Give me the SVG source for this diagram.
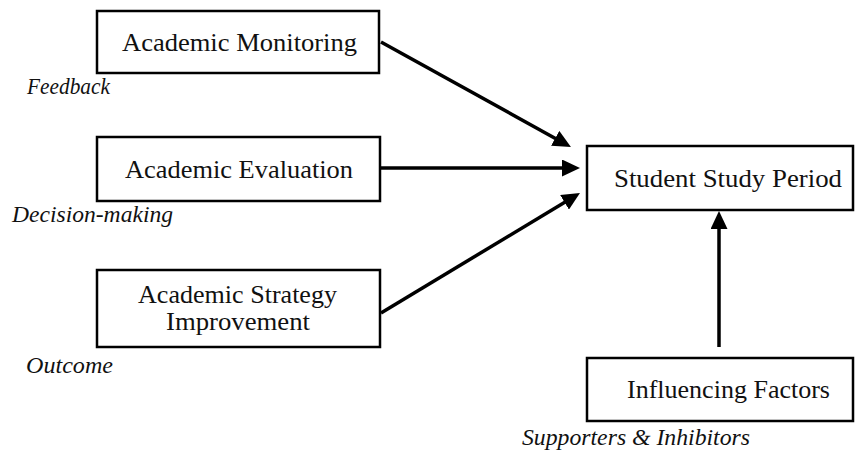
<svg xmlns="http://www.w3.org/2000/svg" width="859" height="453" viewBox="0 0 859 453">
  <style>
    .box { fill: #ffffff; stroke: #000000; stroke-width: 2.5; }
    .label { font-family: "Liberation Serif", "Times New Roman", serif; font-size: 26px; fill: #111111; }
    .note { font-family: "Liberation Serif", "Times New Roman", serif; font-size: 24px; font-style: italic; fill: #111111; }
    .link { fill: none; stroke: #000000; stroke-width: 3.5; marker-end: url(#head); }
  </style>
  <defs>
    <!-- filled triangular head; the line stops inside it so the tip stays sharp -->
    <marker id="head" viewBox="0 0 18 17" refX="8" refY="8.5" markerUnits="userSpaceOnUse" markerWidth="18" markerHeight="17" orient="auto">
      <path d="M0,0 L18,8.5 L0,17 Z" fill="#000000"/>
    </marker>
  </defs>

  <rect width="859" height="453" fill="#ffffff"/>

  <g id="connectors">
    <line class="link" x1="381" y1="42" x2="562.2" y2="142.2"/>
    <line class="link" x1="381" y1="168" x2="570" y2="168"/>
    <line class="link" x1="381" y1="313" x2="571.4" y2="198.2"/>
    <line class="link" x1="719" y1="347" x2="719" y2="221"/>
  </g>

  <g id="academic-monitoring">
    <rect class="box" x="97" y="11" width="282" height="62"/>
    <text class="label" x="122" y="51" textLength="235" lengthAdjust="spacingAndGlyphs">Academic Monitoring</text>
  </g>

  <g id="academic-evaluation">
    <rect class="box" x="97" y="137" width="283" height="64"/>
    <text class="label" x="125" y="178" textLength="228" lengthAdjust="spacingAndGlyphs">Academic Evaluation</text>
  </g>

  <g id="academic-strategy">
    <rect class="box" x="97" y="270" width="283" height="77"/>
    <text class="label" x="138" y="303" textLength="199" lengthAdjust="spacingAndGlyphs">Academic Strategy</text>
    <text class="label" x="166" y="330" textLength="144" lengthAdjust="spacingAndGlyphs">Improvement</text>
  </g>

  <g id="student-study-period">
    <rect class="box" x="587" y="146" width="266" height="64"/>
    <text class="label" x="614" y="187" textLength="228" lengthAdjust="spacingAndGlyphs">Student Study Period</text>
  </g>

  <g id="influencing-factors">
    <rect class="box" x="587" y="358" width="266" height="63"/>
    <text class="label" x="627" y="398" textLength="203" lengthAdjust="spacingAndGlyphs">Influencing Factors</text>
  </g>

  <g id="notes">
    <text class="note" x="27" y="94" textLength="83" lengthAdjust="spacingAndGlyphs">Feedback</text>
    <text class="note" x="12" y="222" textLength="161" lengthAdjust="spacingAndGlyphs">Decision-making</text>
    <text class="note" x="26" y="373" textLength="87" lengthAdjust="spacingAndGlyphs">Outcome</text>
    <text class="note" x="522" y="445" textLength="228" lengthAdjust="spacingAndGlyphs">Supporters &amp; Inhibitors</text>
  </g>
</svg>
